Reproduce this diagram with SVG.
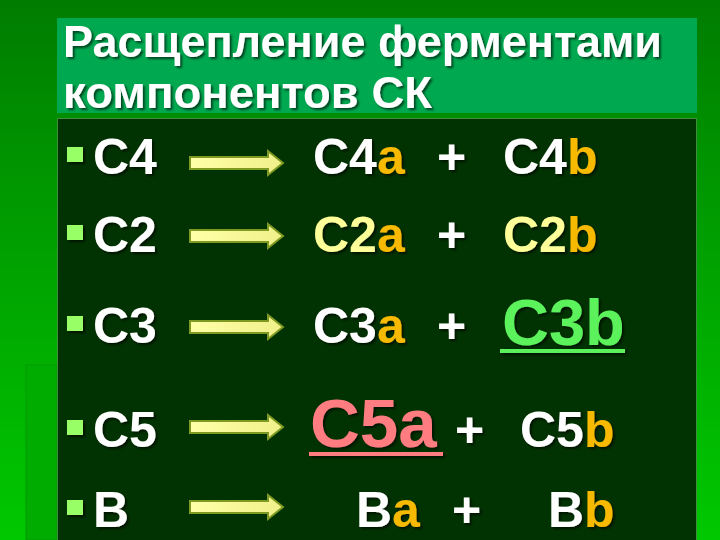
<svg xmlns="http://www.w3.org/2000/svg" width="720" height="540" viewBox="0 0 720 540">
<defs>
  <linearGradient id="bg" x1="0" y1="0" x2="0" y2="1">
    <stop offset="0" stop-color="#007c00"/>
    <stop offset="0.3" stop-color="#009400"/>
    <stop offset="1" stop-color="#00c800"/>
  </linearGradient>
  <linearGradient id="arrowFill" x1="0" y1="0" x2="1" y2="0">
    <stop offset="0" stop-color="#ffffa8"/>
    <stop offset="1" stop-color="#f0f08a"/>
  </linearGradient>
  <filter id="sh" x="-10%" y="-10%" width="130%" height="130%">
    <feDropShadow dx="2" dy="2" stdDeviation="1" flood-color="#000" flood-opacity="0.6"/>
  </filter>
  <path id="arrow" d="M0,-6 L78,-6 L78,-12 L93,0 L78,12 L78,6 L0,6 Z"/>
</defs>
<style>
  .t { font-family: "Liberation Sans", Arial, sans-serif; font-weight: bold; fill: #ffffff; white-space: pre; }
  .title { font-size: 44px; }
  .m { font-size: 50px; }
  .gold { fill: #f8ba00; }
  .pale { fill: #ffff99; }
  .bul { fill: #99ff66; }
  .arr { fill: url(#arrowFill); stroke: #7f9a22; stroke-width: 2; }
</style>
<rect x="0" y="0" width="720" height="540" fill="url(#bg)"/>
<rect x="26" y="365" width="31" height="175" fill="#00ac00" stroke="#009a00" stroke-width="1"/>
<rect x="57" y="18" width="640" height="95" fill="#00a850"/>
<rect x="57.5" y="118.5" width="639" height="425" fill="#013201" stroke="#3f8f3f" stroke-width="1"/>

<g id="title" class="t title" filter="url(#sh)">
  <text x="63" y="57" textLength="599" lengthAdjust="spacingAndGlyphs">Расщепление  ферментами</text>
  <text x="63" y="108" textLength="369" lengthAdjust="spacingAndGlyphs">компонентов  СК</text>
</g>

<g id="connectors">
  <use href="#arrow" class="arr" transform="translate(190,163)"/>
  <use href="#arrow" class="arr" transform="translate(190,236)"/>
  <use href="#arrow" class="arr" transform="translate(190,327)"/>
  <use href="#arrow" class="arr" transform="translate(190,427)"/>
  <use href="#arrow" class="arr" transform="translate(190,507)"/>
</g>

<g id="row-c4" filter="url(#sh)">
  <rect class="bul" x="67" y="147" width="16" height="15"/>
  <text class="t m" x="93" y="174">C4</text>
  <text class="t m" x="313" y="174">C4<tspan class="gold">a</tspan></text>
  <text class="t m" x="437" y="174">+</text>
  <text class="t m" x="503" y="174">C4<tspan class="gold">b</tspan></text>
</g>

<g id="row-c2" filter="url(#sh)">
  <rect class="bul" x="67" y="225" width="16" height="15"/>
  <text class="t m" x="93" y="252">C2</text>
  <text class="t m" x="313" y="252"><tspan class="pale">C2</tspan><tspan class="gold">a</tspan></text>
  <text class="t m" x="437" y="252">+</text>
  <text class="t m" x="503" y="252"><tspan class="pale">C2</tspan><tspan class="gold">b</tspan></text>
</g>

<g id="row-c3" filter="url(#sh)">
  <rect class="bul" x="67" y="316" width="16" height="15"/>
  <text class="t m" x="93" y="343">C3</text>
  <text class="t m" x="313" y="343">C3<tspan class="gold">a</tspan></text>
  <text class="t m" x="437" y="343">+</text>
  <text class="t" x="502" y="345" style="font-size:65px;fill:#5cf25c">C3b</text>
  <rect x="500" y="349" width="125" height="4" fill="#5cf25c"/>
</g>

<g id="row-c5" filter="url(#sh)">
  <rect class="bul" x="67" y="420" width="16" height="15"/>
  <text class="t m" x="93" y="447">C5</text>
  <text class="t" x="310" y="447" style="font-size:69px;fill:#ff7c80">C5a</text>
  <rect x="309" y="452" width="134" height="4" fill="#ff7c80"/>
  <text class="t m" x="455" y="447">+</text>
  <text class="t m" x="520" y="447">C5<tspan class="gold">b</tspan></text>
</g>

<g id="row-b" filter="url(#sh)">
  <rect class="bul" x="67" y="500" width="16" height="15"/>
  <text class="t m" x="93" y="527">B</text>
  <text class="t m" x="356" y="527">B<tspan class="gold">a</tspan></text>
  <text class="t m" x="452" y="527">+</text>
  <text class="t m" x="548" y="527">B<tspan class="gold">b</tspan></text>
</g>
</svg>
